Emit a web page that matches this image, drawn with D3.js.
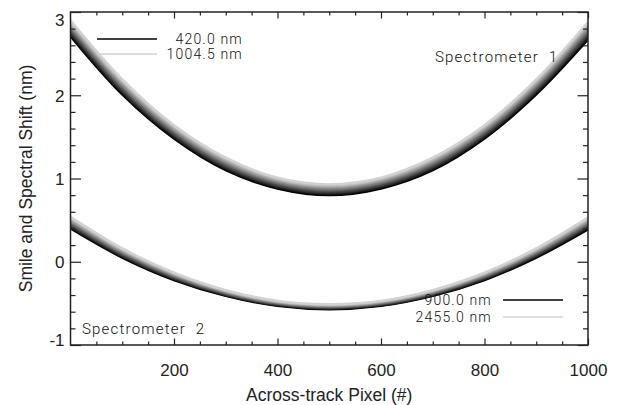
<!DOCTYPE html>
<html>
<head>
<meta charset="utf-8">
<script src="https://d3js.org/d3.v7.min.js"></script>
<style>
body { margin: 0; background: #fff; }
svg text { font-family: "Liberation Sans", Arial, sans-serif; fill: #222; }
.note { font-family: Roboto, "DejaVu Sans", sans-serif; font-weight: 300; letter-spacing: 1.2px; font-size: 14px; fill: #111; }
</style>
</head>
<body>
<script>
// across-track pixel positions where the curves were read
const pixel = [0, 100, 200, 300, 400, 500, 600, 700, 800, 900, 1000];

// spectrometer 1 (VNIR) wavelengths, nm
const spec1Waves = ['420.0', '478.5', '536.9', '595.4', '653.8', '712.3', '770.7', '829.2', '887.6', '946.1', '1004.5'];
const spec1Shift = [
    [2.710, 2.010, 1.480, 1.100, 0.880, 0.800, 0.880, 1.100, 1.480, 2.010, 2.670],
    [2.729, 2.028, 1.496, 1.115, 0.893, 0.813, 0.893, 1.115, 1.496, 2.028, 2.691],
    [2.748, 2.046, 1.512, 1.130, 0.906, 0.826, 0.906, 1.130, 1.512, 2.046, 2.712],
    [2.767, 2.064, 1.528, 1.145, 0.919, 0.839, 0.919, 1.145, 1.528, 2.064, 2.733],
    [2.786, 2.082, 1.544, 1.160, 0.932, 0.852, 0.932, 1.160, 1.544, 2.082, 2.754],
    [2.805, 2.100, 1.560, 1.175, 0.945, 0.865, 0.945, 1.175, 1.560, 2.100, 2.775],
    [2.824, 2.118, 1.576, 1.190, 0.958, 0.878, 0.958, 1.190, 1.576, 2.118, 2.796],
    [2.843, 2.136, 1.592, 1.205, 0.971, 0.891, 0.971, 1.205, 1.592, 2.136, 2.817],
    [2.862, 2.154, 1.608, 1.220, 0.984, 0.904, 0.984, 1.220, 1.608, 2.154, 2.838],
    [2.881, 2.172, 1.624, 1.235, 0.997, 0.917, 0.997, 1.235, 1.624, 2.172, 2.859],
    [2.900, 2.190, 1.640, 1.250, 1.010, 0.930, 1.010, 1.250, 1.640, 2.190, 2.880]
];

// spectrometer 2 (SWIR) wavelengths, nm
const spec2Waves = ['900.0', '1055.5', '1211.0', '1366.5', '1522.0', '1677.5', '1833.0', '1988.5', '2144.0', '2299.5', '2455.0'];
const spec2Shift = [
    [0.400, 0.050, -0.220, -0.410, -0.530, -0.570, -0.530, -0.410, -0.220, 0.050, 0.390],
    [0.414, 0.061, -0.211, -0.403, -0.524, -0.564, -0.524, -0.403, -0.211, 0.061, 0.404],
    [0.428, 0.072, -0.202, -0.396, -0.518, -0.558, -0.518, -0.396, -0.202, 0.072, 0.418],
    [0.442, 0.083, -0.193, -0.389, -0.512, -0.552, -0.512, -0.389, -0.193, 0.083, 0.432],
    [0.456, 0.094, -0.184, -0.382, -0.506, -0.546, -0.506, -0.382, -0.184, 0.094, 0.446],
    [0.470, 0.105, -0.175, -0.375, -0.500, -0.540, -0.500, -0.375, -0.175, 0.105, 0.460],
    [0.484, 0.116, -0.166, -0.368, -0.494, -0.534, -0.494, -0.368, -0.166, 0.116, 0.474],
    [0.498, 0.127, -0.157, -0.361, -0.488, -0.528, -0.488, -0.361, -0.157, 0.127, 0.488],
    [0.512, 0.138, -0.148, -0.354, -0.482, -0.522, -0.482, -0.354, -0.148, 0.138, 0.502],
    [0.526, 0.149, -0.139, -0.347, -0.476, -0.516, -0.476, -0.347, -0.139, 0.149, 0.516],
    [0.540, 0.160, -0.130, -0.340, -0.470, -0.510, -0.470, -0.340, -0.130, 0.160, 0.530]
];

const xMajor = [200, 400, 600, 800, 1000];
const yMajor = [-1, 0, 1, 2, 3];

const plotL = 70.5, plotR = 588, plotT = 12, plotB = 345;

const svg = d3.select(document.body)
    .append('svg')
    .attr('width', 619)
    .attr('height', 405);

const xScale = d3.scaleLinear().domain([0, 1000]).range([plotL, plotR]);
const yScale = d3.scaleLinear().domain([-1, 3]).range([plotB, plotT]);
const grey = d3.scaleLinear().domain([0, 10]).range(['#000000', '#d2d2d2']);

svg.append('clipPath')
    .attr('id', 'plotClip')
    .append('rect')
    .attr('x', plotL).attr('y', plotT)
    .attr('width', plotR - plotL).attr('height', plotB - plotT);

const line = d3.line()
    .x(function(d, i){ return xScale(pixel[i]); })
    .y(function(d){ return yScale(d); })
    .curve(d3.curveCatmullRom.alpha(0.5));

drawBand(spec1Shift);
drawBand(spec2Shift);

function drawBand(rows){
    svg.append('g')
        .attr('clip-path', 'url(#plotClip)')
        .selectAll('path')
        .data(rows)
        .enter()
        .append('path')
        .attr('d', line)
        .attr('fill', 'none')
        .attr('stroke', function(d, i){ return grey(i); })
        .attr('stroke-width', 2.4);
}

// axes, ticks pointing inward like IDL
const minorX = d3.range(0, 1001, 50).filter(function(v){ return v % 200 !== 0; });
const minorY = d3.range(-1, 3.001, 0.2).filter(function(v){ return Math.abs(v - Math.round(v)) > 0.01; });
const plain = function(d){ return String(d); };

function addAxis(axis, tx, ty){
    const g = svg.append('g')
        .attr('transform', 'translate(' + tx + ',' + ty + ')')
        .call(axis);
    g.select('.domain').remove();
    g.selectAll('line').attr('stroke', '#222').attr('stroke-width', 1.2);
    return g;
}

const xAxis = addAxis(d3.axisBottom(xScale).tickValues(xMajor).tickFormat(plain).tickSize(-6.5).tickPadding(19), 0, plotB);
xAxis.selectAll('text').attr('font-size', 17).attr('fill', '#222');
addAxis(d3.axisBottom(xScale).tickValues(minorX).tickSize(-3.5).tickFormat(''), 0, plotB);
addAxis(d3.axisTop(xScale).tickValues(xMajor).tickSize(-6.5).tickFormat(''), 0, plotT);
addAxis(d3.axisTop(xScale).tickValues(minorX).tickSize(-3.5).tickFormat(''), 0, plotT);

const yAxis = addAxis(d3.axisLeft(yScale).tickValues(yMajor).tickFormat(plain).tickSize(-10.5).tickPadding(6), plotL, 0);
yAxis.selectAll('text').attr('font-size', 17).attr('fill', '#222')
    .attr('dy', function(d){
        if (d === 3) return '0.8em';
        if (d === -1) return '0.04em';
        return '0.34em';
    });
addAxis(d3.axisLeft(yScale).tickValues(minorY).tickSize(-5).tickFormat(''), plotL, 0);
addAxis(d3.axisRight(yScale).tickValues(yMajor).tickSize(-10.5).tickFormat(''), plotR, 0);
addAxis(d3.axisRight(yScale).tickValues(minorY).tickSize(-5).tickFormat(''), plotR, 0);

svg.append('rect')
    .attr('x', plotL).attr('y', plotT)
    .attr('width', plotR - plotL).attr('height', plotB - plotT)
    .attr('fill', 'none')
    .attr('stroke', '#222')
    .attr('stroke-width', 1.5);

// axis titles
svg.append('text')
    .attr('x', (plotL + plotR) / 2)
    .attr('y', 401)
    .attr('text-anchor', 'middle')
    .attr('font-size', 17.5)
    .text('Across-track Pixel (#)');

svg.append('text')
    .attr('transform', 'translate(32,' + (plotT + plotB) / 2 + ') rotate(-90)')
    .attr('text-anchor', 'middle')
    .attr('font-size', 17.5)
    .text('Smile and Spectral Shift (nm)');

// legends
const legend1 = [spec1Waves[0], spec1Waves[spec1Waves.length - 1]];
const legend2 = [spec2Waves[0], spec2Waves[spec2Waves.length - 1]];

legend1.forEach(function(w, i){
    const ly = 39 + i * 15;
    svg.append('line')
        .attr('x1', 97).attr('x2', 157).attr('y1', ly).attr('y2', ly)
        .attr('stroke', i === 0 ? grey(0) : grey(10)).attr('stroke-width', 1.3);
    svg.append('text').attr('class', 'note')
        .attr('x', 243).attr('y', ly + 5)
        .attr('text-anchor', 'end')
        .text(w + ' nm');
});

legend2.forEach(function(w, i){
    const ly = 300 + i * 17;
    svg.append('line')
        .attr('x1', 503).attr('x2', 563).attr('y1', ly).attr('y2', ly)
        .attr('stroke', i === 0 ? grey(0) : grey(10)).attr('stroke-width', 1.3);
    svg.append('text').attr('class', 'note')
        .attr('x', 492).attr('y', ly + 5)
        .attr('text-anchor', 'end')
        .text(w + ' nm');
});

svg.append('text').attr('class', 'note')
    .attr('x', 435).attr('y', 62)
    .style('font-size', '15px')
    .attr('xml:space', 'preserve')
    .text('Spectrometer  1');

svg.append('text').attr('class', 'note')
    .attr('x', 82).attr('y', 334)
    .style('font-size', '15px')
    .attr('xml:space', 'preserve')
    .text('Spectrometer  2');
</script>
</body>
</html>
